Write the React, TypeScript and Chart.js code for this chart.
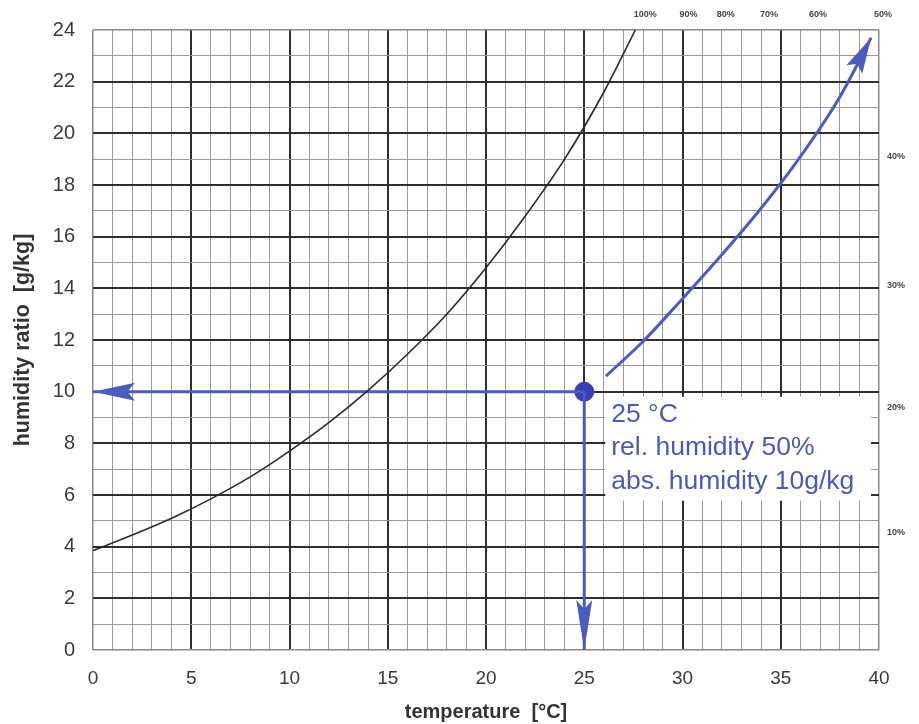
import React, { useEffect, useRef } from "react";
import { Chart, registerables } from "chart.js";

Chart.register(...registerables);

// ---- data ----
const saturationTemp = [0, 2, 4, 6, 8, 10, 12, 14, 16, 18, 20, 22, 24, 26, 27.6];
const saturationRatio = [3.85, 4.45, 5.1, 5.85, 6.7, 7.7, 8.8, 10.05, 11.45, 13.0, 14.8, 16.8, 19.0, 21.6, 24.0];

const rh50Temp = [26.1, 28, 30, 32, 34, 36, 38, 39.6];
const rh50Ratio = [10.6, 11.95, 13.6, 15.3, 17.1, 19.1, 21.4, 23.7];

const pointTemp = 25;
const pointRatio = 10;

const topLabels = ["100%", "90%", "80%", "70%", "60%", "50%"];
const topLabelTemps = [28.1, 30.3, 32.2, 34.4, 36.9, 40.2];
const rightLabels = ["40%", "30%", "20%", "10%"];
const rightLabelRatios = [19.1, 14.1, 9.4, 4.55];

const annotationLines = ["25 °C", "rel. humidity 50%", "abs. humidity 10g/kg"];

const xTitle = "temperature  [°C]";
const yTitle = "humidity ratio  [g/kg]";

const BLUE = "#4a5cc0";
const DOT = "#3a3fb2";
const TEXT_BLUE = "#4b5ab4";
const FONT = "'Liberation Sans', Arial, sans-serif";

const toPts = (xs: number[], ys: number[]) => xs.map((x, i) => ({ x, y: ys[i] }));

const overlayPlugin = {
  id: "overlay",
  beforeDatasetsDraw(chart: any) {
    const { ctx, scales } = chart;
    const px = scales.x.getPixelForValue(pointTemp);
    const py = scales.y.getPixelForValue(pointRatio);
    ctx.save();
    ctx.fillStyle = "#ffffff";
    ctx.fillRect(px + 21, py + 5, scales.x.getPixelForValue(40) - 8 - (px + 21), 104);
    ctx.restore();
  },
  afterDatasetsDraw(chart: any) {
    const { ctx, scales } = chart;
    // arrowheads
    chart.data.datasets.forEach((ds: any, i: number) => {
      if (!ds.arrowLen) return;
      const meta = chart.getDatasetMeta(i);
      const n = meta.data.length;
      const a = meta.data[n - 2];
      const b = meta.data[n - 1];
      const ang = Math.atan2(b.y - a.y, b.x - a.x);
      const L = ds.arrowLen;
      const W = ds.arrowHalf;
      ctx.save();
      ctx.translate(b.x, b.y);
      ctx.rotate(ang);
      ctx.fillStyle = ds.borderColor;
      ctx.beginPath();
      ctx.moveTo(0, 0);
      ctx.lineTo(-L, -W);
      ctx.lineTo(-L * 0.82, 0);
      ctx.lineTo(-L, W);
      ctx.closePath();
      ctx.fill();
      ctx.restore();
    });
    // annotation text
    const px = scales.x.getPixelForValue(pointTemp);
    const py = scales.y.getPixelForValue(pointRatio);
    ctx.save();
    ctx.fillStyle = TEXT_BLUE;
    ctx.font = `26.5px ${FONT}`;
    ctx.textBaseline = "middle";
    ctx.textAlign = "left";
    annotationLines.forEach((t, i) => {
      ctx.fillText(t, px + 27, py + 23 + i * 33.5);
    });
    // RH labels
    ctx.fillStyle = "#444";
    ctx.font = `bold 9px ${FONT}`;
    ctx.textAlign = "center";
    topLabels.forEach((t, i) => {
      ctx.fillText(t, scales.x.getPixelForValue(topLabelTemps[i]), 15);
    });
    ctx.textAlign = "left";
    rightLabels.forEach((t, i) => {
      ctx.fillText(t, scales.x.getPixelForValue(40) + 8, scales.y.getPixelForValue(rightLabelRatios[i]));
    });
    ctx.restore();
  },
};

export default function App() {
  const ref = useRef<HTMLCanvasElement | null>(null);
  useEffect(() => {
    if (!ref.current) return;
    const chart = new Chart(ref.current, {
      type: "scatter",
      data: {
        datasets: [
          {
            data: toPts(saturationTemp, saturationRatio),
            showLine: true,
            borderColor: "#2a2a2a",
            borderWidth: 1.6,
            pointRadius: 0,
            cubicInterpolationMode: "monotone",
          },
          {
            data: toPts(rh50Temp, rh50Ratio),
            showLine: true,
            borderColor: BLUE,
            borderWidth: 3,
            pointRadius: 0,
            cubicInterpolationMode: "monotone",
            arrowLen: 36,
            arrowHalf: 9,
          } as any,
          {
            data: [{ x: pointTemp, y: pointRatio }, { x: 0, y: pointRatio }],
            showLine: true,
            borderColor: BLUE,
            borderWidth: 3,
            pointRadius: 0,
            arrowLen: 42,
            arrowHalf: 9,
          } as any,
          {
            data: [{ x: pointTemp, y: pointRatio }, { x: pointTemp, y: 0 }],
            showLine: true,
            borderColor: BLUE,
            borderWidth: 3,
            pointRadius: 0,
            arrowLen: 50,
            arrowHalf: 8,
          } as any,
          {
            data: [{ x: pointTemp, y: pointRatio }],
            pointRadius: 9.5,
            pointBackgroundColor: DOT,
            pointBorderColor: DOT,
            showLine: false,
          },
        ],
      },
      options: {
        animation: false,
        responsive: false,
        layout: { padding: { top: 28, right: 40, left: 0, bottom: 0 } },
        plugins: { legend: { display: false }, tooltip: { enabled: false } },
        scales: {
          x: {
            type: "linear",
            min: 0,
            max: 40,
            afterFit: (s: any) => {
              s.height = 74;
            },
            border: { display: false },
            grid: {
              drawTicks: false,
              color: (c: any) => {
                const v = c.tick.value;
                if (v === 0 || v === 40) return "#8a8a8a";
                return v % 5 === 0 ? "#2e2e2e" : "#999999";
              },
              lineWidth: (c: any) => {
                const v = c.tick.value;
                if (v === 0 || v === 40) return 1.5;
                return v % 5 === 0 ? 2 : 1;
              },
            },
            ticks: {
              stepSize: 1,
              autoSkip: false,
              maxRotation: 0,
              padding: 17,
              color: "#3a3a3a",
              font: { family: FONT, size: 19 },
              callback: (v: any) => (v % 5 === 0 ? String(v) : ""),
            },
            title: {
              display: true,
              text: xTitle,
              color: "#333",
              font: { family: FONT, size: 20, weight: "bold" },
              padding: { top: 0, bottom: 0 },
            },
          },
          y: {
            type: "linear",
            min: 0,
            max: 24,
            afterFit: (s: any) => {
              s.width = 93;
            },
            border: { display: false },
            grid: {
              drawTicks: false,
              color: (c: any) => {
                const v = c.tick.value;
                if (v === 0 || v === 24) return "#8a8a8a";
                return v % 2 === 0 ? "#2e2e2e" : "#999999";
              },
              lineWidth: (c: any) => {
                const v = c.tick.value;
                if (v === 0 || v === 24) return 1.5;
                return v % 2 === 0 ? 2 : 1;
              },
            },
            ticks: {
              stepSize: 1,
              autoSkip: false,
              padding: 18,
              color: "#3a3a3a",
              font: { family: FONT, size: 20 },
              callback: (v: any) => (v % 2 === 0 ? String(v) : ""),
            },
            title: {
              display: true,
              text: yTitle,
              color: "#333",
              font: { family: FONT, size: 21.5, weight: "bold" },
              padding: { top: 10, bottom: 0 },
            },
          },
        },
      },
      plugins: [overlayPlugin],
    } as any);
    return () => chart.destroy();
  }, []);

  return (
    <div style={{ position: "fixed", left: 0, top: 0, width: 919, height: 724, background: "#fff" }}>
      <canvas ref={ref} width={919} height={724} style={{ display: "block" }} />
    </div>
  );
}
